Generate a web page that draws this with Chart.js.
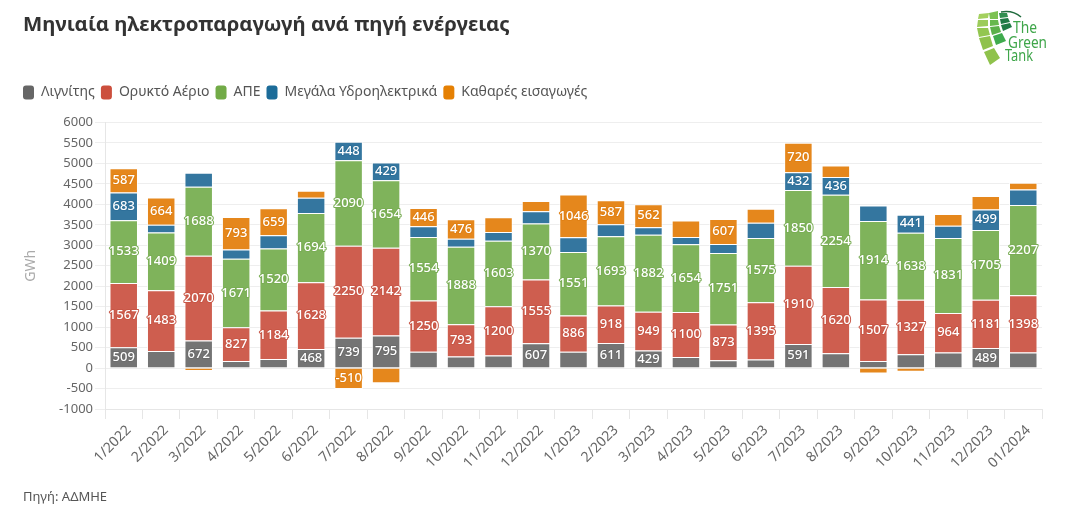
<!DOCTYPE html>
<html lang="el">
<head>
<meta charset="utf-8">
<script src="https://cdn.jsdelivr.net/npm/chart.js@4"></script>
<style>
  html, body { margin: 0; background: #fff; }
  #wrap { position: relative; width: 1070px; height: 505px; overflow: hidden; }
  #source { position: absolute; left: 23px; top: 487px; font: 13px "Noto Sans", sans-serif; color: #555; }
  #logo { position: absolute; left: 975px; top: 10px; }
</style>
</head>
<body>
<div id="wrap">
  <canvas id="energy" width="1070" height="505"></canvas>
  <svg id="logo" width="80" height="58" viewBox="0 0 80 58">
    <polygon points="4,4 14,3 13,8 3,9" fill="#a3d05e"/>
    <polygon points="3,10 13,10 13,16 2,17" fill="#9ccb5a"/>
    <polygon points="2,18 13,18 15,25 4,27" fill="#93c650"/>
    <polygon points="4,28 15,26 18,36 8,40" fill="#8fc24c"/>
    <polygon points="9,42 19,38 25,48 15,55" fill="#8fc24c"/>
    <polygon points="14,3 23,1 23,9 15,9" fill="#7cc152"/>
    <polygon points="15,10 23,10 24,15 15,16" fill="#66b84e"/>
    <polygon points="15,17 24,16 26,22 17,25" fill="#5bb04a"/>
    <polygon points="18,26 27,23 31,31 21,35" fill="#3fab4d"/>
    <polygon points="24,3 32,3 33,7 25,8" fill="#2f8f4f"/>
    <polygon points="25,9 33,8 35,12 26,14" fill="#1f7a45"/>
    <polygon points="26,15 35,13 37,17 28,21" fill="#1f7a45"/>
    <path d="M26 2 Q38 0 46 7" fill="none" stroke="#1f6b3d" stroke-width="1.5"/>
    <g font-family="Noto Sans, sans-serif" font-size="16" fill="#3fa64a">
      <text x="38" y="23" textLength="24" lengthAdjust="spacingAndGlyphs">The</text>
      <text x="33" y="38" textLength="39" lengthAdjust="spacingAndGlyphs">Green</text>
      <text x="30" y="51" textLength="28" lengthAdjust="spacingAndGlyphs">Tank</text>
    </g>
  </svg>
  <div id="source">Πηγή: ΑΔΜΗΕ</div>
</div>
<script>
const months = ['1/2022', '2/2022', '3/2022', '4/2022', '5/2022', '6/2022', '7/2022', '8/2022', '9/2022', '10/2022', '11/2022', '12/2022',
  '1/2023', '2/2023', '3/2023', '4/2023', '5/2023', '6/2023', '7/2023', '8/2023', '9/2023', '10/2023', '11/2023', '12/2023', '01/2024'];

const lignite = [509, 420, 672, 170, 220, 468, 739, 795, 400, 280, 310, 607, 400, 611, 429, 270, 190, 210, 591, 360, 170, 340, 380, 489, 380];
const gas = [1567, 1483, 2070, 827, 1184, 1628, 2250, 2142, 1250, 793, 1200, 1555, 886, 918, 949, 1100, 873, 1395, 1910, 1620, 1507, 1327, 964, 1181, 1398];
const renewables = [1533, 1409, 1688, 1671, 1520, 1694, 2090, 1654, 1554, 1888, 1603, 1370, 1551, 1693, 1882, 1654, 1751, 1575, 1850, 2254, 1914, 1638, 1831, 1705, 2207];
const hydro = [683, 190, 340, 230, 320, 370, 448, 429, 260, 200, 210, 300, 360, 290, 180, 180, 220, 370, 432, 436, 380, 441, 300, 499, 380];
const imports = [587, 664, -70, 793, 659, 170, -510, -370, 446, 476, 360, 250, 1046, 587, 562, 400, 607, 340, 720, 280, -130, -90, 290, 330, 160];

const seriesNames = ['Λιγνίτης', 'Ορυκτό Αέριο', 'ΑΠΕ', 'Μεγάλα Υδροηλεκτρικά', 'Καθαρές εισαγωγές'];
const barColors = ['#747474', '#ce5e4f', '#7fb35b', '#34769f', '#e5871c'];
const legendColors = ['#666666', '#cc4f3d', '#72ab47', '#1c6c99', '#e58003'];
const outlineColors = ['#6c6c6c', '#c85646', '#79ad54', '#2d6f99', '#e08014'];
const seriesValues = [lignite, gas, renewables, hydro, imports];

const FONT = '"Noto Sans", sans-serif';
const LABEL_MIN = 425; // smaller segments carry no label
const LEGEND_PAD = 6;

// white value labels with a coloured halo, only on tall enough segments
const valueLabels = {
  id: 'valueLabels',
  afterDatasetsDraw(chart) {
    const ctx = chart.ctx;
    ctx.save();
    ctx.font = '500 13px ' + FONT;
    ctx.textAlign = 'center';
    ctx.textBaseline = 'middle';
    ctx.lineJoin = 'round';
    chart.data.datasets.forEach((ds, i) => {
      chart.getDatasetMeta(i).data.forEach((bar, j) => {
        const v = ds.data[j];
        if (Math.abs(v) < LABEL_MIN) return;
        const y = (bar.y + bar.base) / 2;
        ctx.lineWidth = 2;
        ctx.strokeStyle = outlineColors[i];
        ctx.strokeText(v, bar.x, y);
        ctx.fillStyle = '#fff';
        ctx.fillText(v, bar.x, y);
      });
    });
    ctx.restore();
  }
};

// legend sits flush with the title and keeps a gap above the plot
const legendTweak = {
  id: 'legendTweak',
  beforeInit(chart) {
    const legend = chart.legend;
    const fit = legend.fit;
    legend.fit = function () {
      fit.call(this);
      this.height += 13;
    };
    const draw = legend.draw;
    legend.draw = function () {
      chart.ctx.save();
      chart.ctx.translate(-LEGEND_PAD, 0);
      draw.call(this);
      chart.ctx.restore();
    };
  }
};

new Chart(document.getElementById('energy'), {
  type: 'bar',
  data: {
    labels: months,
    datasets: seriesNames.map((name, i) => ({
      label: name,
      data: seriesValues[i],
      backgroundColor: barColors[i],
      borderColor: 'rgba(255,255,255,0.75)',
      borderWidth: 1,
      barPercentage: 0.76,
      categoryPercentage: 1
    }))
  },
  options: {
    responsive: false,
    animation: false,
    layout: { padding: { left: 23, right: 28, top: 0, bottom: 0 } },
    plugins: {
      title: {
        display: true,
        text: 'Μηνιαία ηλεκτροπαραγωγή ανά πηγή ενέργειας',
        align: 'start',
        color: '#333',
        font: { family: FONT, size: 20.4, weight: 'bold' },
        padding: { top: 13, bottom: 42 }
      },
      legend: {
        position: 'top',
        align: 'start',
        onClick: null,
        labels: {
          boxWidth: 11,
          boxHeight: 14,
          useBorderRadius: true,
          borderRadius: 3,
          padding: LEGEND_PAD,
          color: '#555',
          font: { family: FONT, size: 14 },
          generateLabels: chart => Chart.defaults.plugins.legend.labels.generateLabels(chart).map((item, i) => ({
            ...item, fillStyle: legendColors[i], strokeStyle: legendColors[i], lineWidth: 0
          }))
        }
      },
      tooltip: { enabled: false }
    },
    scales: {
      x: {
        stacked: true,
        afterFit: s => { s.height = 96; },
        grid: { drawOnChartArea: false, color: '#e6e6e6', tickLength: 10 },
        border: { color: '#e6e6e6' },
        ticks: { color: '#666', font: { family: FONT, size: 14 }, minRotation: 45, maxRotation: 45, autoSkip: false, labelOffset: 5 }
      },
      y: {
        stacked: true,
        min: -1000,
        max: 6000,
        afterFit: s => { s.width = 82; },
        title: { display: true, text: 'GWh', color: '#aaa', font: { family: FONT, size: 14 }, padding: 0 },
        grid: { color: '#eeeeee', tickLength: 10 },
        border: { color: '#e6e6e6' },
        ticks: { stepSize: 500, color: '#666', padding: 2, font: { family: FONT, size: 13 }, callback: v => v }
      }
    }
  },
  plugins: [valueLabels, legendTweak]
});
</script>
</body>
</html>
